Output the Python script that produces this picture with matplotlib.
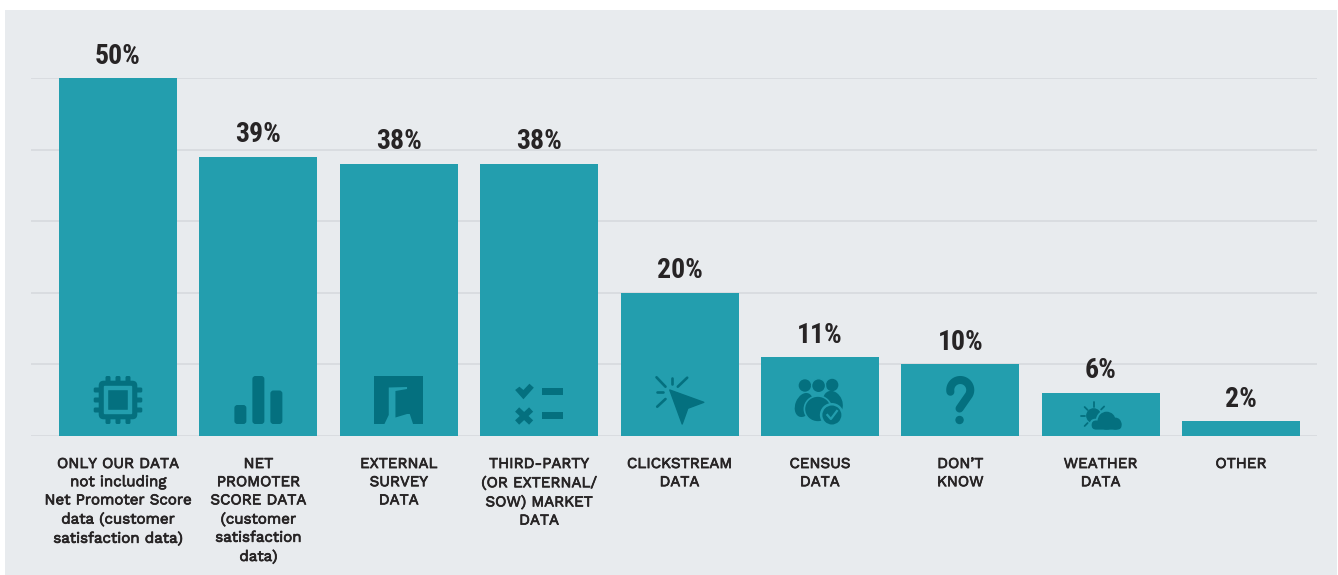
import numpy as np
import matplotlib
matplotlib.use("Agg")
import matplotlib.pyplot as plt
import matplotlib.patheffects as pe
from matplotlib.patches import FancyBboxPatch, Polygon, Circle, Rectangle, Ellipse
from matplotlib.transforms import Affine2D
from matplotlib import font_manager as fm

W, H = 1338, 575

# Survey responses, in percent
categories = [
    "ONLY OUR DATA\nnot including\nNet Promoter Score\ndata (customer\nsatisfaction data)",
    "NET\nPROMOTER\nSCORE DATA\n(customer\nsatisfaction\ndata)",
    "EXTERNAL\nSURVEY\nDATA",
    "THIRD-PARTY\n(OR EXTERNAL/\nSOW) MARKET\nDATA",
    "CLICKSTREAM\nDATA",
    "CENSUS\nDATA",
    "DON\u2019T\nKNOW",
    "WEATHER\nDATA",
    "OTHER",
]
values = [50, 39, 38, 38, 20, 11, 10, 6, 2]
grid_ticks = [0, 10, 20, 30, 40, 50]

PANEL = "#E8EBEE"
TEAL = "#239EAE"
DARK = "#04707F"
INK = "#272425"
GRID = "#D6DADE"

installed = {f.name for f in fm.fontManager.ttflist}


def first_font(*options):
    return next((o for o in options if o in installed), "DejaVu Sans")


LABEL_FONT = first_font("Work Sans", "Open Sans")
VALUE_FONT = first_font("Roboto Condensed", "Barlow Semi Condensed", "Roboto")

fig = plt.figure(figsize=(W / 100, H / 100), dpi=100, facecolor="white")

# Grey panel behind the whole chart
fig.patches.append(Rectangle((5 / W, 0), 1332 / W, (H - 10) / H,
                             transform=fig.transFigure, facecolor=PANEL,
                             edgecolor="none", zorder=-5))

ax = fig.add_axes([31 / W, (H - 435.5) / H, (1317 - 31) / W, (435.5 - 78) / H])
ax.patch.set_alpha(0)
x = np.arange(len(values))
ax.set_xlim(-87 / 140.375, 8 + 76 / 140.375)
ax.set_ylim(0, 50)
for s in ax.spines.values():
    s.set_visible(False)
ax.set_yticks(grid_ticks)
ax.set_yticklabels([])
ax.tick_params(length=0)
ax.grid(axis="y", color=GRID, lw=1.2, zorder=0)
ax.set_axisbelow(True)
ax.bar(x, values, width=118 / 140.375, color=TEAL, zorder=2)
ax.set_xticks(x)
ax.set_xticklabels(categories, fontsize=10.85, fontfamily=LABEL_FONT,
                   color=INK, linespacing=1.38)
ax.tick_params(axis="x", pad=15.5)
# A thin outline thickens the regular weight of the label face
for lab in ax.get_xticklabels():
    lab.set_path_effects([pe.withStroke(linewidth=0.55, foreground=INK)])
for i, v in zip(x, values):
    ax.annotate(f"{v}%", (i, v), xytext=(0, 6), textcoords="offset points",
                ha="center", va="bottom", fontsize=20, fontfamily=VALUE_FONT,
                fontweight="bold", color=INK, zorder=4, clip_on=False)


def px(cx, cy):
    # Icon geometry is written in screen pixels around an anchor point
    return Affine2D().translate(cx, cy).scale(1 / W, -1 / H).translate(0, 1) + fig.transFigure


def add(p, t):
    p.set_transform(t)
    p.set_zorder(5)
    p.set_clip_on(False)
    fig.add_artist(p)


def rbox(x0, y0, w, h, r, t, fc=DARK, ec="none", lw=0):
    add(FancyBboxPatch((x0 + r, y0 + r), w - 2 * r, h - 2 * r,
                       boxstyle=f"round,pad={r},rounding_size={r}", fc=fc, ec=ec, lw=lw), t)


def stroke(xs, ys, t, lw, cap="round"):
    add(plt.Line2D(xs, ys, color=DARK, lw=lw, solid_capstyle=cap, solid_joinstyle="round"), t)


def chip(t):
    for o in (-10, 0, 10):
        rbox(-24.3, o - 2.5, 8, 5, 1.5, t)
        rbox(16.3, o - 2.5, 8, 5, 1.5, t)
        rbox(o - 2.5, -24, 5, 8, 1.5, t)
        rbox(o - 2.5, 16, 5, 8, 1.5, t)
    rbox(-19.3, -19.3, 38.6, 38.6, 5, t)
    rbox(-14.2, -14.2, 28.4, 28.4, 1, t, fc=TEAL)
    rbox(-9.8, -9.8, 19.6, 19.6, 0.4, t)


def columns(t):
    rbox(-24, 5, 12, 19, 3, t)
    rbox(-6, -24, 12, 48, 3, t)
    rbox(12, -9.5, 12, 33.5, 3, t)


def book(t):
    add(Rectangle((-24.3, -24), 48.6, 48, fc=DARK, ec="none"), t)
    add(Polygon([(-10, -12.5), (8.3, -13), (8.3, -11), (-3.3, -9), (-3.3, 17.5), (8.3, 14),
                 (11, 14), (14.3, 24), (-14.3, 24), (-10, 15)], fc=TEAL, ec="none"), t)


def checklist(t):
    add(Polygon([(-24, -10), (-19.7, -13.3), (-15.7, -10), (-9.7, -16.3), (-5.3, -12.3),
                 (-15.7, -0.7)], fc=DARK, ec="none"), t)
    stroke([-22, -8], [9.5, 22.5], t, 4.3, "butt")
    stroke([-22, -8], [22.5, 9.5], t, 4.3, "butt")
    add(Rectangle((3, -12), 21, 7, fc=DARK, ec="none"), t)
    add(Rectangle((3, 12), 21, 7, fc=DARK, ec="none"), t)


def cursor(t):
    add(Polygon([(-9.7, -10), (24.3, 2.3), (8.3, 8.3), (2.7, 24)],
                fc=DARK, ec=DARK, lw=1, joinstyle="round"), t)
    for a, b in (((-23, -22.7), (-14, -13.3)), ((-8, -22.3), (-8, -16)),
                 ((7.7, -22.3), (-1.7, -13.3)), ((-22.3, -7.7), (-16.3, -7.7)),
                 ((-22.3, 6.7), (-14, -1))):
        stroke([a[0], b[0]], [a[1], b[1]], t, 1.9)


def people(t):
    add(Circle((-15, -14.5), 6.2, fc=DARK, ec="none"), t)
    add(Circle((12.3, -15), 6.2, fc=DARK, ec="none"), t)
    add(Ellipse((-16, 5), 17, 25, angle=22, fc=DARK, ec="none"), t)
    add(Ellipse((13, 3), 19, 25, angle=-22, fc=DARK, ec="none"), t)
    add(Circle((-1.3, -14.3), 7, fc=DARK, ec=TEAL, lw=1), t)
    add(Ellipse((-2, 9), 27, 26, fc=DARK, ec=TEAL, lw=1.2), t)
    add(Circle((12, 15), 12, fc=TEAL, ec="none"), t)
    add(Circle((12, 15), 9.5, fc=DARK, ec="none"), t)
    add(plt.Line2D([7.5, 11, 17], [15, 19, 11], color=TEAL, lw=1.6), t)


def question(t):
    ang = np.radians(np.linspace(190, -30, 40))
    xs = np.r_[10 * np.cos(ang), -0.7]
    ys = np.r_[-10 - 10 * np.sin(ang), 8.5]
    stroke(xs, ys, t, 5.8)
    add(Circle((-0.7, 20), 4.2, fc=DARK, ec="none"), t)


def weather(t):
    add(Circle((-7, -1.3), 7.5, fc=DARK, ec="none"), t)
    for a, b in (((-6.3, -15.3), (-6.3, -10.5)), ((-20, -1.3), (-16, -1.3)),
                 ((-16, -10), (-13, -7)), ((3.5, -10.5), (0.5, -7.5)), ((-16, 9), (-13, 6))):
        stroke([a[0], b[0]], [a[1], b[1]], t, 1.3)
    # Teal halo separates the cloud from the sun
    add(Circle((6, 3.7), 10.8, fc=TEAL, ec="none"), t)
    rbox(-11, 1.7, 34, 13, 6, t, fc=TEAL)
    add(Circle((6, 3.7), 9, fc=DARK, ec="none"), t)
    add(Circle((14.7, 6.6), 6, fc=DARK, ec="none"), t)
    rbox(-9, 3.5, 30, 9.1, 4.5, t)


icons = [chip, columns, book, checklist, cursor, people, question, weather]
icon_y = [400, 400, 400, 400, 400, 400, 400, 417]
for i, (draw, cy) in enumerate(zip(icons, icon_y)):
    draw(px(118 + 140.375 * i, cy))

fig.savefig("out.png", dpi=100, facecolor="white")
